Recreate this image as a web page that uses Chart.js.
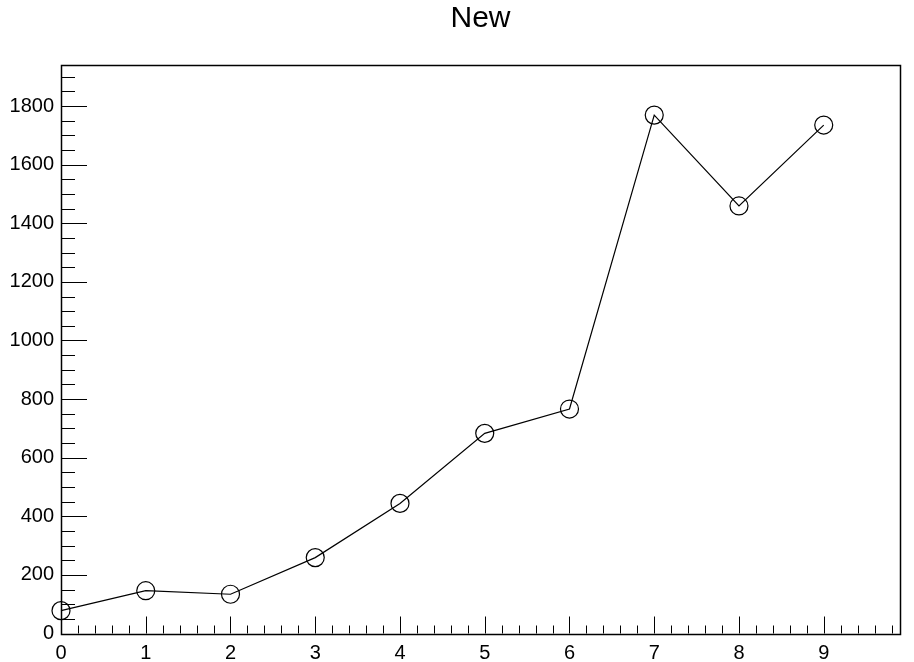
<!DOCTYPE html>
<html><head><meta charset="utf-8">
<script src="https://cdn.jsdelivr.net/npm/chart.js@4/dist/chart.umd.min.js"></script>
<style>html,body{margin:0;padding:0;background:#fff;} #wrap{width:914px;height:662px;position:relative;}</style>
</head><body><div id="wrap"><canvas id="c"></canvas></div>
<script>
const chartTitle = 'New';
const xValues = [0, 1, 2, 3, 4, 5, 6, 7, 8, 9];
const yValues = [78, 146, 134, 259, 444, 683, 766, 1769, 1459, 1735];
const xTickValues = [0, 1, 2, 3, 4, 5, 6, 7, 8, 9];
const yTickValues = [0, 200, 400, 600, 800, 1000, 1200, 1400, 1600, 1800];
const xRange = [0, 9.9];
const yRange = [0, 1940];
const xMinorStep = 0.2;
const yMinorStep = 50;

const FONT = "'Liberation Sans', Arial, Helvetica, sans-serif";

const frameTicks = {
  id: 'frameTicks',
  afterDatasetsDraw(chart) {
    const {ctx, chartArea: a, scales: {x, y}} = chart;
    ctx.save();
    ctx.strokeStyle = '#000';
    ctx.lineWidth = 1;
    ctx.beginPath();
    const nY = Math.round((yRange[1] - yRange[0]) / yMinorStep);
    for (let i = 0; i <= nY; i++) {
      const v = yRange[0] + i * yMinorStep;
      if (v > yRange[1]) break;
      const py = Math.round(y.getPixelForValue(v)) + 0.5;
      const len = yTickValues.includes(v) ? 26 : 14;
      ctx.moveTo(a.left, py);
      ctx.lineTo(a.left + len, py);
    }
    const nX = Math.round((xRange[1] - xRange[0]) / xMinorStep);
    for (let i = 0; i <= nX; i++) {
      const v = +(xRange[0] + i * xMinorStep).toFixed(4);
      if (v > xRange[1]) break;
      const px = Math.round(x.getPixelForValue(v)) + 0.5;
      const len = xTickValues.includes(v) ? 17 : 8;
      ctx.moveTo(px, a.bottom);
      ctx.lineTo(px, a.bottom - len);
    }
    ctx.stroke();
    ctx.lineWidth = 1.5;
    ctx.strokeRect(Math.round(a.left) + 0.5, Math.round(a.top) + 0.5,
                   Math.round(a.right) - Math.round(a.left), Math.round(a.bottom) - Math.round(a.top));
    ctx.restore();
  }
};

new Chart(document.getElementById('c'), {
  type: 'line',
  data: {
    datasets: [{
      data: xValues.map((v, i) => ({x: v, y: yValues[i]})),
      borderColor: '#000',
      borderWidth: 1.2,
      backgroundColor: 'rgba(0,0,0,0)',
      pointRadius: 9,
      pointBorderWidth: 1.2,
      pointBorderColor: '#000',
      pointBackgroundColor: 'rgba(0,0,0,0)',
      pointStyle: 'circle',
      tension: 0,
      fill: false,
      clip: false
    }]
  },
  options: {
    responsive: true,
    maintainAspectRatio: false,
    animation: false,
    layout: {padding: {top: 0, left: 0, right: 14, bottom: 0}},
    plugins: {
      legend: {display: false},
      tooltip: {enabled: false},
      title: {
        display: true,
        text: chartTitle,
        fullSize: false,
        color: '#000',
        font: {family: FONT, size: 30, weight: 'normal', lineHeight: 1.2},
        padding: {top: 1, bottom: 28}
      }
    },
    scales: {
      x: {
        type: 'linear',
        min: xRange[0], max: xRange[1],
        grid: {display: false, drawTicks: false},
        border: {display: false},
        afterBuildTicks: ax => { ax.ticks = xTickValues.map(v => ({value: v})); },
        afterFit: ax => { ax.height = 28.5; },
        ticks: {
          color: '#000', padding: 8, maxRotation: 0, autoSkip: false,
          font: {family: FONT, size: 20},
          callback: v => String(v)
        }
      },
      y: {
        type: 'linear',
        min: yRange[0], max: yRange[1],
        grid: {display: false, drawTicks: false},
        border: {display: false},
        afterBuildTicks: ax => { ax.ticks = yTickValues.map(v => ({value: v})); },
        afterFit: ax => { ax.width = 61; },
        ticks: {
          color: '#000', padding: 7, autoSkip: false,
          font: {family: FONT, size: 20},
          callback: v => String(v)
        }
      }
    }
  },
  plugins: [frameTicks]
});
</script>
</body></html>
